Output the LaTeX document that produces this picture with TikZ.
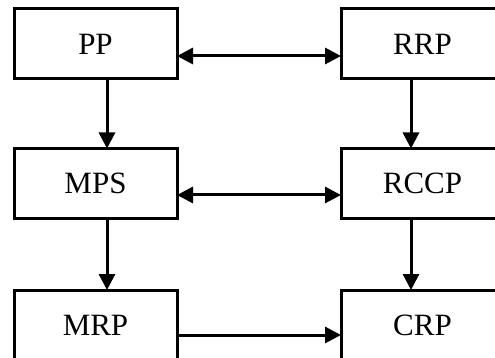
\documentclass[tikz,border=0pt]{standalone}
\usepackage{fontspec}
\setmainfont{Liberation Serif}
\usetikzlibrary{arrows.meta}
\usetikzlibrary{positioning}

\begin{document}
\begin{tikzpicture}[x=1pt,y=-1pt]
\tikzstyle{bloc}=[rectangle,draw,line width=3pt,fill=white,
minimum width=163pt,minimum height=70pt,inner sep=0pt,
font=\fontsize{31}{34}\selectfont]
%styledesflèches
\tikzstyle{suite}=[-{Triangle[length=16pt,width=16pt]},line width=3pt,
shorten >=-1.5pt]
\tikzstyle{deuxsens}=[{Triangle[length=16pt,width=16pt]}-{Triangle[length=16pt,width=16pt]},
line width=3pt,shorten >=-1.5pt,shorten <=-1.5pt]
\fill[white] (0,0) rectangle (495,358);
\clip (0,0) rectangle (495,358);
%placementdesnœuds
\node[bloc] (pp) at (95.5,44) {PP};
\node[bloc] (rrp) at (422.5,44) {RRP};
\node[bloc] (mps) at (95.5,183.5) {MPS};
\node[bloc] (rccp) at (422.5,183.5) {RCCP};
\node[bloc] (mrp) at (95.5,325) {MRP};
\node[bloc] (crp) at (422.5,325) {CRP};
%Placementdesflèches
\draw[deuxsens] ([yshift=-12pt]pp.east) -- ([yshift=-12pt]rrp.west);
\draw[deuxsens] ([yshift=-11.5pt]mps.east) -- ([yshift=-11.5pt]rccp.west);
\draw[suite] ([yshift=-10pt]mrp.east) -- ([yshift=-10pt]crp.west);
\draw[suite] ([xshift=11.5pt]pp.south) -- ([xshift=11.5pt]mps.north);
\draw[suite] ([xshift=11.5pt]mps.south) -- ([xshift=11.5pt]mrp.north);
\draw[suite] ([xshift=-11.5pt]rrp.south) -- ([xshift=-11.5pt]rccp.north);
\draw[suite] ([xshift=-11.5pt]rccp.south) -- ([xshift=-11.5pt]crp.north);
\end{tikzpicture}
\end{document}
